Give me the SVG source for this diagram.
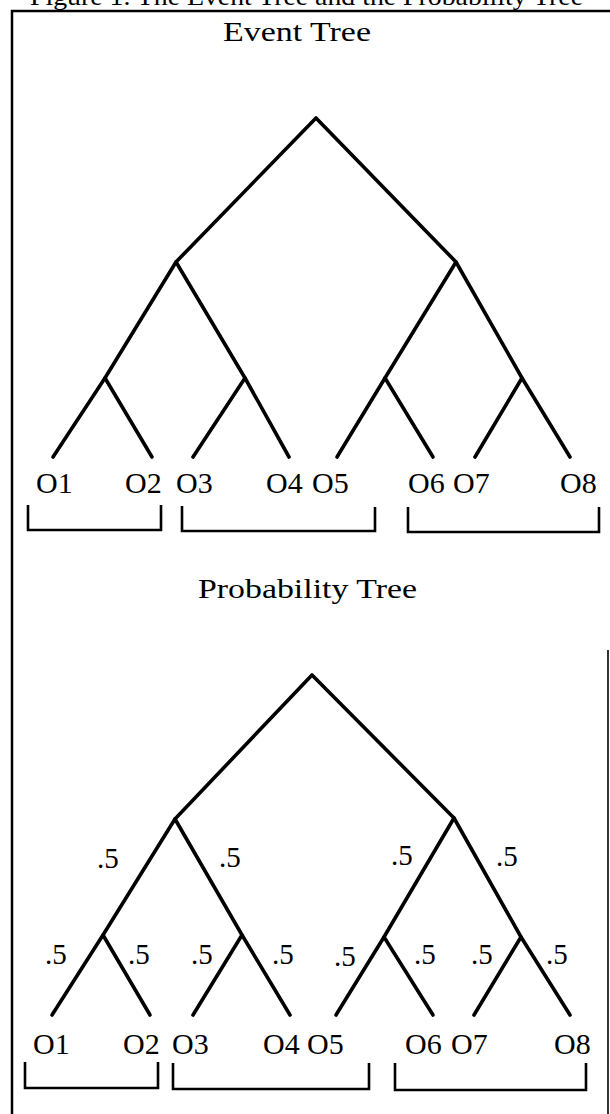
<svg xmlns="http://www.w3.org/2000/svg" width="610" height="1114" viewBox="0 0 610 1114">
<style>
.bg{fill:#ffffff}
.frame{fill:none;stroke:#000;stroke-width:2.5}
.edge{fill:none;stroke:#000;stroke-width:3.6;stroke-linecap:round;stroke-linejoin:round}
.br{fill:none;stroke:#000;stroke-width:2.6}
.t{font-family:"Liberation Serif","Times New Roman",serif;fill:#000}
.title{font-size:28px}
.lab{font-size:30px}
.p{font-size:29px}
</style>
<rect class="bg" x="0" y="0" width="610" height="1114"/>
<g id="frame">
<path class="frame" d="M12,1114 V11 H610"/>
<path class="frame" d="M608,650 V1114" style="stroke-width:1.6"/>
</g>
<g id="caption"><text class="t" x="30" y="5" font-size="26" textLength="553" lengthAdjust="spacingAndGlyphs">Figure 1.  The Event Tree and the Probability Tree</text></g>
<g id="title-event"><text class="t title" x="223" y="41" textLength="148" lengthAdjust="spacingAndGlyphs">Event Tree</text></g>
<g id="title-prob"><text class="t title" x="198" y="598" textLength="219" lengthAdjust="spacingAndGlyphs">Probability Tree</text></g>

<g id="connectors">
<g id="event-edges">
<path class="edge" d="M176,262 L316,118 L456,262"/>
<path class="edge" d="M105,378 L176,262 L245,378"/>
<path class="edge" d="M385,378 L456,262 L522,378"/>
<path class="edge" d="M53,457 L105,378 L152,457"/>
<path class="edge" d="M193,457 L245,378 L289,457"/>
<path class="edge" d="M337,457 L385,378 L433,457"/>
<path class="edge" d="M475,457 L522,378 L570,457"/>
</g>
<g id="prob-edges">
<path class="edge" d="M175,819 L312,675 L454,818"/>
<path class="edge" d="M103,935 L175,819 L242,935"/>
<path class="edge" d="M384,937 L454,818 L521,937"/>
<path class="edge" d="M52,1015 L103,935 L150,1015"/>
<path class="edge" d="M193,1015 L242,935 L290,1015"/>
<path class="edge" d="M336,1015 L384,937 L433,1015"/>
<path class="edge" d="M474,1015 L521,937 L570,1015"/>
</g>
<g id="brackets">
<path class="br" d="M28,505 V530 H161 V505"/>
<path class="br" d="M182,506 V531 H375 V507"/>
<path class="br" d="M408,507 V532 H599 V507"/>
<path class="br" d="M25,1062 V1088 H158 V1062"/>
<path class="br" d="M173,1063 V1089 H369 V1063"/>
<path class="br" d="M395,1063 V1090 H586 V1063"/>
</g>
</g>

<g id="event-leaves">
<g id="e-O1"><text class="t lab" x="36" y="493">O1</text></g>
<g id="e-O2"><text class="t lab" x="125" y="493">O2</text></g>
<g id="e-O3"><text class="t lab" x="176" y="493">O3</text></g>
<g id="e-O4"><text class="t lab" x="266" y="493">O4</text></g>
<g id="e-O5"><text class="t lab" x="312" y="493">O5</text></g>
<g id="e-O6"><text class="t lab" x="408" y="493">O6</text></g>
<g id="e-O7"><text class="t lab" x="453" y="493">O7</text></g>
<g id="e-O8"><text class="t lab" x="560" y="493">O8</text></g>
</g>

<g id="prob-leaves">
<g id="p-O1"><text class="t lab" x="33" y="1054">O1</text></g>
<g id="p-O2"><text class="t lab" x="123" y="1054">O2</text></g>
<g id="p-O3"><text class="t lab" x="172" y="1054">O3</text></g>
<g id="p-O4"><text class="t lab" x="263" y="1054">O4</text></g>
<g id="p-O5"><text class="t lab" x="307" y="1054">O5</text></g>
<g id="p-O6"><text class="t lab" x="405" y="1054">O6</text></g>
<g id="p-O7"><text class="t lab" x="451" y="1054">O7</text></g>
<g id="p-O8"><text class="t lab" x="554" y="1054">O8</text></g>
</g>

<g id="prob-labels">
<text class="t p" x="97" y="868">.5</text>
<text class="t p" x="219" y="867">.5</text>
<text class="t p" x="391" y="865">.5</text>
<text class="t p" x="496" y="866">.5</text>
<text class="t p" x="45" y="964">.5</text>
<text class="t p" x="128" y="964">.5</text>
<text class="t p" x="191" y="964">.5</text>
<text class="t p" x="272" y="964">.5</text>
<text class="t p" x="334" y="966">.5</text>
<text class="t p" x="414" y="964">.5</text>
<text class="t p" x="471" y="964">.5</text>
<text class="t p" x="546" y="964">.5</text>
</g>
</svg>
